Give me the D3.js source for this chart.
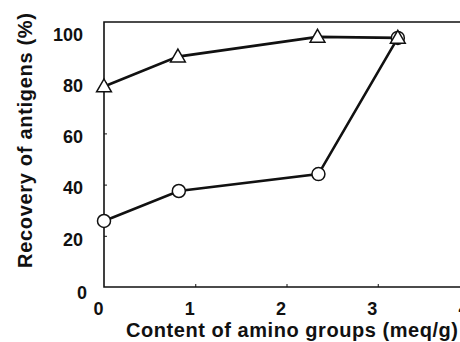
<!DOCTYPE html>
<html>
<head>
<meta charset="utf-8">
<script src="https://cdn.jsdelivr.net/npm/d3@7"></script>
<style>
  html, body { margin: 0; padding: 0; background: #fff; }
  svg { display: block; }
  .tick text { font-family: "Liberation Sans", Arial, sans-serif; font-weight: bold; font-size: 18px; fill: #111; }
</style>
</head>
<body>
<div id="chart"></div>
<script>
(function () {
  'use strict';

  // amino group content (meq/g) and recovery (%)
  var triangleX = [0, 0.81, 2.34, 3.22];
  var triangleY = [78.3, 90, 97.7, 97.3];
  var circleX = [0, 0.82, 2.35, 3.22];
  var circleY = [25.8, 37.5, 44.1, 97.3];
  var xTicks = [0, 1, 2, 3, 4];
  var yTicks = [0, 20, 40, 60, 80, 100];

  var width = 460, height = 342;
  var x0 = 104, x1 = 469;   // x = 0 .. 4
  var y0 = 287, y1 = 31;    // y = 0 .. 100

  var x = d3.scaleLinear().domain([0, 4]).range([x0, x1]);
  var y = d3.scaleLinear().domain([0, 100]).range([y0, y1]);
  var topY = 22;

  var svg = d3.select('#chart').append('svg')
    .attr('width', width).attr('height', height);

  // frame
  svg.append('path')
    .attr('d', 'M' + width + ',' + topY + 'H' + x0 + 'V' + y0 + 'H' + width)
    .attr('fill', 'none').attr('stroke', '#111').attr('stroke-width', 1.6);

  var xAxis = svg.append('g')
    .attr('transform', 'translate(0,' + y0 + ')')
    .call(d3.axisBottom(x).tickValues(xTicks).tickSize(-3).tickPadding(0).tickFormat(d3.format('d')));
  xAxis.select('.domain').remove();
  xAxis.selectAll('.tick line').attr('stroke', '#111').attr('stroke-width', 1);
  xAxis.selectAll('.tick text').attr('dy', null).attr('y', 28).attr('x', -6);
  xAxis.selectAll('.tick').filter(function (d) { return d === 0; }).select('line').remove();

  var yAxis = svg.append('g')
    .attr('transform', 'translate(' + x0 + ',0)')
    .call(d3.axisLeft(y).tickValues(yTicks).tickSize(-3).tickPadding(0));
  yAxis.select('.domain').remove();
  yAxis.selectAll('.tick line').attr('stroke', '#111').attr('stroke-width', 1);
  yAxis.selectAll('.tick text')
    .attr('x', function (d) { return d === 0 ? -17 : -21; })
    .attr('dy', '0.35em')
    .attr('y', function (d) { return d === 0 ? 5 : 3; });
  yAxis.selectAll('.tick').filter(function (d) { return d === 0 || d === 100; }).select('line').remove();

  // axis titles
  svg.append('text')
    .attr('x', 126).attr('y', 337)
    .attr('textLength', 332).attr('lengthAdjust', 'spacing')
    .attr('font-family', '"Liberation Sans", Arial, sans-serif')
    .attr('font-weight', 'bold').attr('font-size', '20px').attr('fill', '#111')
    .text('Content of amino groups (meq/g)');

  svg.append('text')
    .attr('transform', 'translate(32,268) rotate(-90)')
    .attr('textLength', 255).attr('lengthAdjust', 'spacing')
    .attr('font-family', '"Liberation Sans", Arial, sans-serif')
    .attr('font-weight', 'bold').attr('font-size', '20px').attr('fill', '#111')
    .text('Recovery of antigens (%)');

  var line = d3.line().x(function (d) { return x(d[0]); }).y(function (d) { return y(d[1]); });
  var circlePts = d3.zip(circleX, circleY);
  var trianglePts = d3.zip(triangleX, triangleY);

  svg.append('path').datum(circlePts).attr('d', line)
    .attr('fill', 'none').attr('stroke', '#111').attr('stroke-width', 2.6);
  svg.append('path').datum(trianglePts).attr('d', line)
    .attr('fill', 'none').attr('stroke', '#111').attr('stroke-width', 2.6);

  svg.append('g').selectAll('circle').data(circlePts).enter().append('circle')
    .attr('cx', function (d) { return x(d[0]); })
    .attr('cy', function (d) { return y(d[1]); })
    .attr('r', 6.5)
    .attr('fill', '#fff').attr('stroke', '#111').attr('stroke-width', 1.5);

  var tri = d3.symbol().type(d3.symbolTriangle).size(95);
  svg.append('g').selectAll('path').data(trianglePts).enter().append('path')
    .attr('d', tri)
    .attr('transform', function (d) { return 'translate(' + x(d[0]) + ',' + (y(d[1]) + 1) + ')'; })
    .attr('fill', '#fff').attr('stroke', '#111').attr('stroke-width', 1.5);
})();
</script>
</body>
</html>
